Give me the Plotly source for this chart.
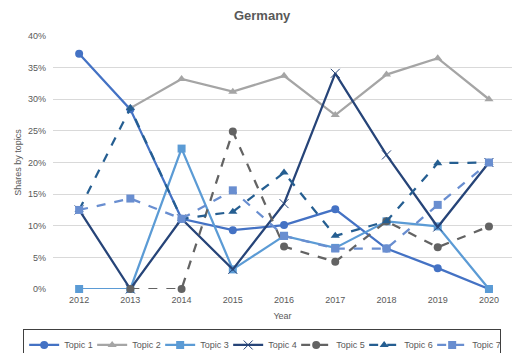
import plotly.graph_objects as go

years = [2012, 2013, 2014, 2015, 2016, 2017, 2018, 2019, 2020]
topic_names = ["Topic 1", "Topic 2", "Topic 3", "Topic 4", "Topic 5", "Topic 6", "Topic 7"]

topic1 = [0.372, 0.284, 0.111, 0.093, 0.101, 0.126, 0.064, 0.033, 0.0]
topic2 = [None, 0.286, 0.332, 0.312, 0.337, 0.275, 0.339, 0.365, 0.300]
topic3 = [0.0, 0.0, 0.222, 0.031, 0.084, 0.065, 0.107, 0.099, 0.0]
topic4 = [0.125, 0.0, 0.111, 0.031, 0.135, 0.341, 0.212, 0.098, 0.200]
topic5 = [None, 0.0, 0.0, 0.249, 0.067, 0.043, 0.107, 0.066, 0.099]
topic6 = [0.125, 0.286, 0.111, 0.122, 0.184, 0.084, 0.107, 0.199, 0.200]
topic7 = [0.125, 0.143, 0.111, 0.156, 0.084, 0.064, 0.064, 0.133, 0.200]

series = [topic1, topic2, topic3, topic4, topic5, topic6, topic7]
colors = ["#4472C4", "#A5A5A5", "#5B9BD5", "#264478", "#636363", "#255E91", "#698ED0"]
dashes = ["solid", "solid", "solid", "solid", "dash", "dash", "dash"]
symbols = ["circle", "triangle-up", "square", "x-thin", "circle", "triangle-up", "square"]

fig = go.Figure()
for name, vals, c, d, s in zip(topic_names, series, colors, dashes, symbols):
    marker = dict(symbol=s, size=8, color=c)
    if s == "x-thin":
        marker = dict(symbol=s, size=9, color=c, line=dict(width=1, color=c))
    fig.add_trace(go.Scatter(
        x=years, y=vals, name=name, mode="lines+markers",
        line=dict(color=c, width=2.25, dash=d),
        marker=marker, cliponaxis=False, connectgaps=False,
    ))

font = "Liberation Sans"
fig.update_layout(
    width=512, height=353,
    margin=dict(l=53, r=0, t=36, b=64, autoexpand=False),
    paper_bgcolor="white", plot_bgcolor="white",
    font=dict(family=font, size=9, color="#595959"),
    title=dict(text="<b>Germany</b>", x=0.512, xanchor="center", y=0.955, yanchor="middle",
               font=dict(family=font, size=13, color="#595959")),
    xaxis=dict(range=[2011.49, 2020.45], tickvals=years, ticktext=[str(y) for y in years],
               showgrid=False, zeroline=False, showline=False, ticks="", ticklabelstandoff=4,
               title=dict(text="Year", font=dict(size=9, color="#595959"), standoff=8),
               tickfont=dict(size=9, color="#595959")),
    yaxis=dict(range=[0, 0.4], tickvals=[0, 0.05, 0.1, 0.15, 0.2, 0.25, 0.3, 0.35, 0.4],
               tickformat=".0%", showgrid=True, gridcolor="#D9D9D9", gridwidth=1,
               zeroline=False, showline=False, ticks="", ticklabelstandoff=6,
               title=dict(text="Shares by topics", font=dict(size=9, color="#595959"), standoff=4),
               tickfont=dict(size=9, color="#595959")),
    legend=dict(orientation="h", x=-0.065, xanchor="left", y=-0.16, yanchor="top",
                bordercolor="#404040", borderwidth=1, bgcolor="white",
                font=dict(size=9, color="#595959"), entrywidth=23, entrywidthmode="pixels",
                itemwidth=30, tracegroupgap=0),
)
fig.write_html("out.html")
